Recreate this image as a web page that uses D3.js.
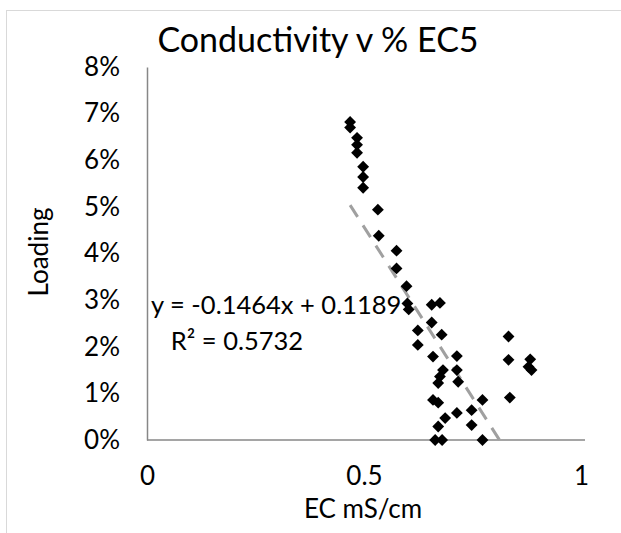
<!DOCTYPE html>
<html><head><meta charset="utf-8">
<script src="https://cdn.jsdelivr.net/npm/d3@7"></script>
<style>body{margin:0;background:#fff}svg{display:block}</style>
</head><body>
<svg id="c" width="621" height="533"></svg>
<script>
const ecValues = [0.468,0.468,0.484,0.484,0.484,0.498,0.498,0.498,0.532,0.534,0.575,0.575,0.598,0.600,0.603,0.656,0.675,0.656,0.624,0.679,0.624,0.659,0.714,0.682,0.675,0.714,0.717,0.671,0.659,0.671,0.773,0.714,0.748,0.687,0.671,0.748,0.664,0.680,0.773,0.833,0.833,0.883,0.879,0.886,0.836];
const loadingValues = [0.0682,0.0670,0.0648,0.0633,0.0616,0.0586,0.0564,0.0541,0.0494,0.0438,0.0406,0.0368,0.0330,0.0293,0.0280,0.0290,0.0294,0.0252,0.0235,0.0226,0.0204,0.0179,0.0180,0.0150,0.0136,0.0150,0.0125,0.0122,0.0086,0.0080,0.0086,0.0058,0.0064,0.0047,0.0029,0.0032,0.0000,0.0000,0.0000,0.0222,0.0172,0.0173,0.0157,0.0150,0.0091];
const xTicks = [0,0.5,1];
const yTicks = [0,0.01,0.02,0.03,0.04,0.05,0.06,0.07,0.08];
const slope = -0.1464, intercept = 0.1189, r2 = 0.5732;
const title = "Conductivity v % EC5", xTitle = "EC mS/cm", yTitle = "Loading";

const svg = d3.select("#c");
const font = "Lato, 'Open Sans', sans-serif";
const x = d3.scaleLinear().domain([0,1]).range([147,581]);
const y = d3.scaleLinear().domain([0,0.08]).range([440,67]);

// chart border
svg.append("rect").attr("x",6.5).attr("y",10.5).attr("width",640).attr("height",560)
  .attr("fill","none").attr("stroke","#d9d9d9").attr("stroke-width",1);

// axes
const gx = svg.append("g").attr("transform",`translate(0,${y(0)})`)
  .call(d3.axisBottom(x).tickValues(xTicks).tickSize(0).tickPadding(27).tickFormat(d3.format("")));
const gy = svg.append("g").attr("transform",`translate(${x(0)},0)`)
  .call(d3.axisLeft(y).tickValues(yTicks).tickSize(0).tickPadding(27).tickFormat(d3.format(".0%")));
[gx,gy].forEach(g=>{
  g.select(".domain").attr("stroke","#878787").attr("stroke-width",1.5);
  g.selectAll("text").attr("font-family",font).attr("font-size",26).attr("fill","#000");
});
gx.select(".domain").attr("d",`M${x(0)},0H${x(1)+4}`);

// trendline
const xMin = d3.min(ecValues), xMax = d3.max(ecValues);
const xZero = Math.min(xMax, -intercept/slope);
const tl = [[xMin, slope*xMin+intercept],[xZero, Math.max(0, slope*xZero+intercept)]];
svg.append("path").attr("d", d3.line().x(d=>x(d[0])).y(d=>y(d[1]))(tl))
  .attr("stroke","#a0a0a0").attr("stroke-width",3).attr("stroke-dasharray","14,10").attr("fill","none");

// points
const sym = d3.symbol().type(d3.symbolSquare).size(70);
svg.append("g").selectAll("path").data(ecValues.map((v,i)=>[v,loadingValues[i]])).join("path")
  .attr("d", sym).attr("transform", d=>`translate(${x(d[0])},${y(d[1])}) rotate(45)`).attr("fill","#000");

// equation
svg.append("text").attr("x",151).attr("y",314).attr("font-family",font).attr("font-size",25.5)
  .text(`y = ${slope}x + ${intercept}`);
svg.append("text").attr("x",237).attr("y",350).attr("text-anchor","middle").attr("font-family",font).attr("font-size",25.5)
  .text(`R² = ${r2}`);

// titles
svg.append("text").attr("x",318).attr("y",52).attr("text-anchor","middle").attr("font-family",font).attr("font-size",34).text(title);
svg.append("text").attr("x",363).attr("y",518).attr("text-anchor","middle").attr("font-family",font).attr("font-size",26).text(xTitle);
svg.append("text").attr("transform","translate(48,252) rotate(-90)").attr("text-anchor","middle").attr("font-family",font).attr("font-size",26).text(yTitle);
</script>
</body></html>
